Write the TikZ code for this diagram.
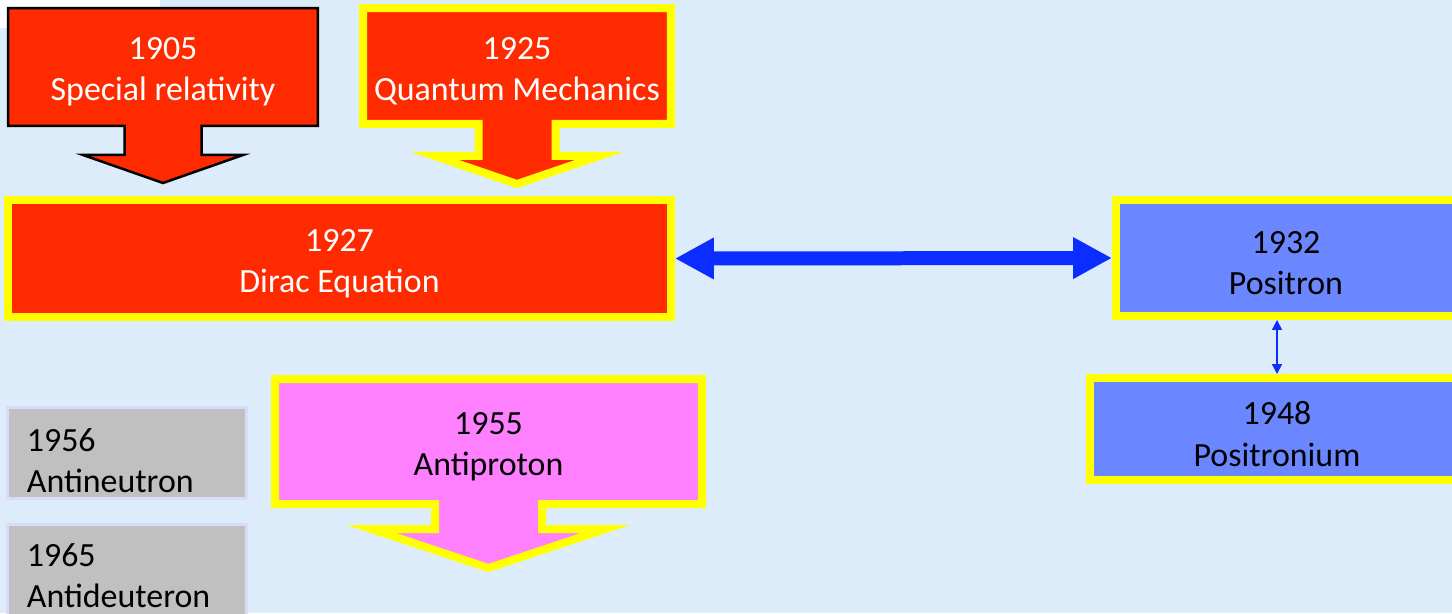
\documentclass[tikz,border=0pt]{standalone}
\usepackage{fontspec}
\setmainfont{Carlito}
\usetikzlibrary{positioning, arrows.meta, calc, backgrounds}
\definecolor{boxred}{RGB}{255,42,0}
\definecolor{boxyellow}{RGB}{255,255,0}
\definecolor{boxblue}{RGB}{107,135,255}
\definecolor{arrowblue}{RGB}{12,45,255}
\definecolor{boxpink}{RGB}{255,128,255}
\definecolor{boxgray}{RGB}{192,192,192}
\definecolor{grayedge}{RGB}{218,218,250}
\definecolor{pagebg}{RGB}{221,236,250}
\tikzset{
  yeartext/.style={font=\fontsize{19.3}{23.4}\selectfont, align=center, inner sep=0pt},
  boxtext/.style={yeartext, yshift=-0.1cm},
  calloutnode/.style={rectangle, inner sep=0pt, outer sep=0pt},
  redcallout/.style={fill=boxred, draw=black, line width=0.05cm},
  yellowcallout/.style={draw=boxyellow, line width=0.16cm},
  framed/.style={rectangle, draw=boxyellow, line width=0.16cm, inner sep=0pt},
  graybox/.style={rectangle, fill=boxgray, draw=grayedge, line width=0.06cm},
  bigarrow/.style={arrowblue, line width=0.28cm, {Triangle[length=0.78cm,width=0.78cm]}-{Triangle[length=0.78cm,width=0.78cm]}},
  smallarrow/.style={arrowblue, line width=0.03cm, {Triangle[length=0.2cm,width=0.2cm]}-{Triangle[length=0.2cm,width=0.2cm]}}
}
\begin{document}
\begin{tikzpicture}[x=0.02cm, y=-0.02cm]
    \useasboundingbox (0,0) rectangle (1452,613);
    \clip (0,0) rectangle (1452,613);

    \node (sr) [calloutnode, minimum width=6.2cm, minimum height=2.36cm] at (163,67) {};
    \node (srtxt) [boxtext, text=white] at (sr) {1905\\Special relativity};
    
    \node (qm) [calloutnode, minimum width=6.16cm, minimum height=2.32cm] at (517,66) {};
    \node (qmtxt) [boxtext, text=white] at (qm) {1925\\Quantum Mechanics};
    
    \node (dirac) [framed, fill=boxred, minimum width=13.26cm, minimum height=2.34cm] at (339.5,258.5) {};
    \node (diractxt) [boxtext, text=white] at (dirac) {1927\\Dirac Equation};
    
    \node (pos) [framed, fill=boxblue, minimum width=6.8cm, minimum height=2.32cm] at (1286,258) {};
    \node (postxt) [boxtext] at (pos) {1932\\Positron};
    
    \node (psm) [framed, fill=boxblue, minimum width=7.48cm, minimum height=2.04cm] at (1277,429) {};
    \node (psmtxt) [boxtext] at (psm) {1948\\Positronium};
    
    \node (ap) [calloutnode, minimum width=8.54cm, minimum height=2.5cm] at (488.5,441.5) {};
    \node (aptxt) [boxtext] at (ap) {1955\\Antiproton};
    
    \node (an) [graybox, minimum width=4.8cm, minimum height=1.82cm] at (127,452.5) {};
    \node (ad) [graybox, minimum width=4.8cm, minimum height=1.82cm] at (127,569.5) {};
    
    \node (antxt) [yeartext, align=left, right=0.42cm of an.west, yshift=-0.17cm]
    {1956\\Antineutron};
    \node (adtxt) [yeartext, align=left, right=0.42cm of ad.west, yshift=-0.13cm]
    {1965\\Antideuteron};
    
    % Arrows
    \draw [bigarrow] (dirac.east) -- (pos.west);
    \draw [smallarrow] (psm.north |- pos.south) -- (psm.north);
    
    % Background and callout shapes
    \begin{scope}[on background layer]
      \fill [pagebg] (0,0) rectangle (1452,613);
      \fill [white] (0,0) rectangle (160,28);
      \draw [redcallout] (sr.north west) -- (sr.north east) -- (sr.south east)
        -- ($(sr.south)+(38.5,0)$) -- ++(0,29) -- ++(41.5,0) -- ($(sr.south)+(0,57)$)
        -- ($(sr.south)+(-80,29)$) -- ++(41.5,0) -- ($(sr.south)+(-38.5,0)$)
        -- (sr.south west) -- cycle;
      \draw [yellowcallout, fill=boxred] (qm.north west) -- (qm.north east) -- (qm.south east)
        -- ($(qm.south)+(38.5,0)$) -- ++(0,32) -- ++(43.5,0) -- ($(qm.south)+(0,60)$)
        -- ($(qm.south)+(-82,32)$) -- ++(43.5,0) -- ($(qm.south)+(-38.5,0)$)
        -- (qm.south west) -- cycle;
      \draw [yellowcallout, fill=boxpink] (ap.north west) -- (ap.north east) -- (ap.south east)
        -- ($(ap.south)+(53.5,0)$) -- ++(0,25) -- ++(63.5,0) -- ($(ap.south)+(0,64)$)
        -- ($(ap.south)+(-117,25)$) -- ++(63.5,0) -- ($(ap.south)+(-53.5,0)$)
        -- (ap.south west) -- cycle;
    \end{scope}

\end{tikzpicture}
\end{document}
